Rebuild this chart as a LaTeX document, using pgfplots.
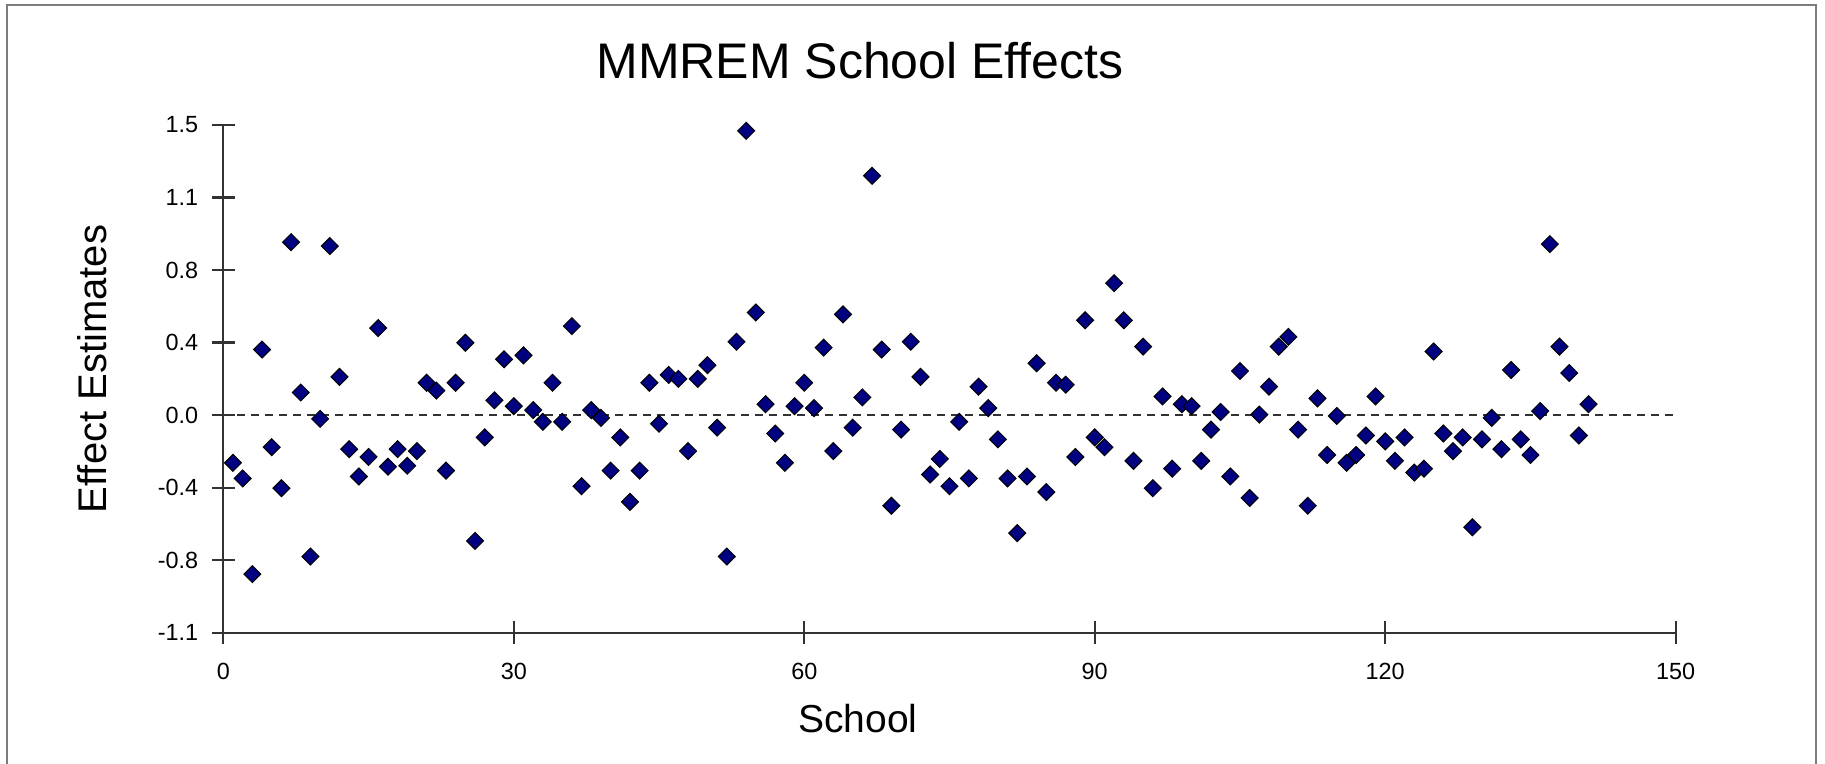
\documentclass[border=0pt]{standalone}
\usepackage{fontspec}
\setmainfont{Liberation Sans}
\usepackage{pgfplots}
\pgfplotsset{compat=1.18}
\definecolor{navyfill}{RGB}{0,0,128}
\definecolor{axisgray}{RGB}{50,50,50}
\definecolor{framegray}{RGB}{125,125,125}
\begin{document}
\begin{tikzpicture}
\path[use as bounding box] (0,0) rectangle (912.5pt,382pt);
\fill[white] (0,0) rectangle (912.5pt,382pt);
\draw[framegray, line width=1pt] (3.65pt,-5pt) -- (3.65pt,379.5pt) -- (907.9pt,379.5pt) -- (907.9pt,-5pt);
\begin{axis}[
  at={(111.65pt,65.65pt)}, anchor=south west,
  scale only axis, width=726.2pt, height=253.85pt,
  xmin=0, xmax=150, ymin=-1.1, ymax=1.5,
  axis lines*=left,
  axis line style={axisgray, line width=1.1pt},
  tick style={axisgray, line width=1.1pt},
  major tick length=11.5pt, tick align=center,
  xtick={0,30,60,90,120,150},
  xticklabels={0,30,60,90,120,150},
  ytick={-1.1,-0.728571,-0.357143,0.014286,0.385714,0.757143,1.128571,1.5},
  yticklabels={-1.1,-0.8,-0.4,0.0,0.4,0.8,1.1,1.5},
  ticklabel style={font=\fontsize{11.7}{14}\selectfont, inner sep=0pt},
  xticklabel style={anchor=north, yshift=-9.3pt},
  yticklabel style={anchor=east, xshift=-6.6pt},
  clip=false,
]
\addplot[axisgray, line width=1pt, dash pattern=on 3.9pt off 3.1pt] coordinates {(0,0.014286) (150,0.014286)};
\addplot[only marks, mark=square*, mark size=3pt,
  mark options={rotate=45, fill=navyfill, draw=black, line width=0.5pt}] table {
x y
1 -0.23
2 -0.31
3 -0.80
4 0.35
5 -0.15
6 -0.36
7 0.90
8 0.13
9 -0.71
10 -0.005
11 0.88
12 0.21
13 -0.16
14 -0.30
15 -0.20
16 0.46
17 -0.25
18 -0.16
19 -0.245
20 -0.17
21 0.18
22 0.14
23 -0.27
24 0.18
25 0.385
26 -0.63
27 -0.10
28 0.09
29 0.30
30 0.06
31 0.32
32 0.04
33 -0.02
34 0.18
35 -0.02
36 0.47
37 -0.35
38 0.04
39 0.00
40 -0.27
41 -0.10
42 -0.43
43 -0.27
44 0.18
45 -0.03
46 0.22
47 0.20
48 -0.17
49 0.20
50 0.27
51 -0.05
52 -0.71
53 0.39
54 1.47
55 0.54
56 0.07
57 -0.08
58 -0.23
59 0.06
60 0.18
61 0.05
62 0.36
63 -0.17
64 0.53
65 -0.05
66 0.105
67 1.24
68 0.35
69 -0.45
70 -0.06
71 0.39
72 0.21
73 -0.29
74 -0.21
75 -0.35
76 -0.02
77 -0.31
78 0.16
79 0.05
80 -0.11
81 -0.31
82 -0.59
83 -0.30
84 0.28
85 -0.38
86 0.18
87 0.17
88 -0.20
89 0.50
90 -0.10
91 -0.15
92 0.69
93 0.50
94 -0.22
95 0.365
96 -0.36
97 0.11
98 -0.26
99 0.07
100 0.06
101 -0.22
102 -0.06
103 0.03
104 -0.30
105 0.24
106 -0.41
107 0.017
108 0.16
109 0.365
110 0.415
111 -0.06
112 -0.45
113 0.10
114 -0.19
115 0.01
116 -0.23
117 -0.19
118 -0.09
119 0.11
120 -0.12
121 -0.22
122 -0.10
123 -0.28
124 -0.26
125 0.34
126 -0.08
127 -0.17
128 -0.10
129 -0.56
130 -0.11
131 0.00
132 -0.16
133 0.245
134 -0.11
135 -0.19
136 0.035
137 0.89
138 0.365
139 0.23
140 -0.09
141 0.07
};
\end{axis}
\node[anchor=base, inner sep=0pt, font=\fontsize{25}{30}\selectfont] at (430pt,342.5pt) {MMREM School Effects};
\node[anchor=base, inner sep=0pt, font=\fontsize{19.5}{24}\selectfont] at (429pt,15.5pt) {School};
\node[anchor=base, rotate=90, inner sep=0pt, font=\fontsize{20}{24}\selectfont] at (53.3pt,197.5pt) {Effect Estimates};
\end{tikzpicture}
\end{document}
